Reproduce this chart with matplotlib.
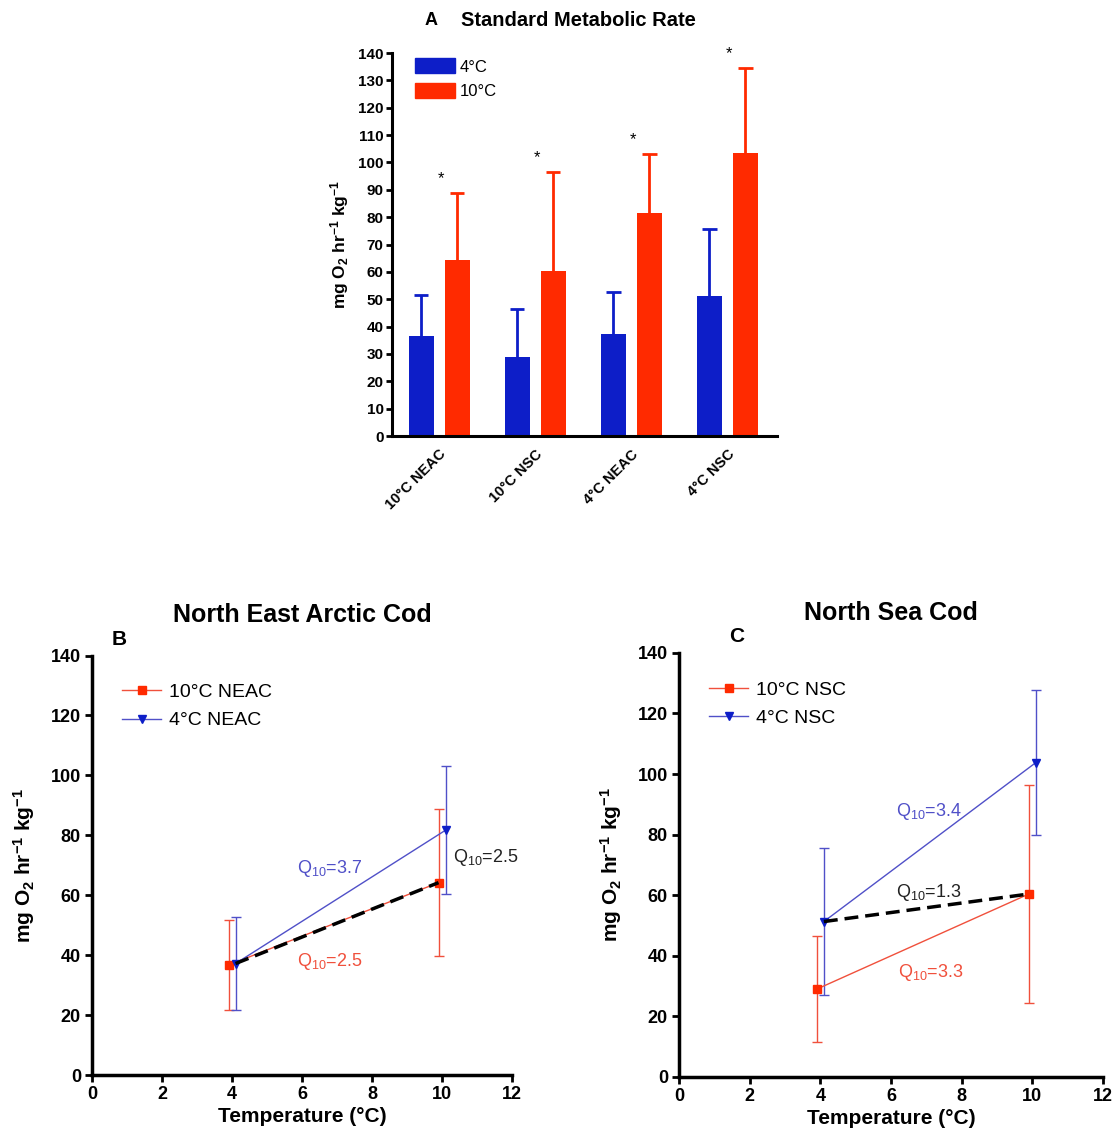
import numpy as np
import matplotlib
matplotlib.use("Agg")
import matplotlib.pyplot as plt
from matplotlib.patches import Patch
from matplotlib.lines import Line2D

plt.rcParams['font.family'] = ['Liberation Sans', 'DejaVu Sans']
plt.rcParams['mathtext.default'] = 'regular'

# ---- Panel A: standard metabolic rate, bar chart ----
groups = ['10°C NEAC', '10°C NSC', '4°C NEAC', '4°C NSC']
smr_at4 = [36.7, 29.0, 37.2, 51.3]
smr_at4_sd = [14.9, 17.3, 15.4, 24.2]
smr_at10 = [64.2, 60.4, 81.7, 103.3]
smr_at10_sd = [24.6, 36.1, 21.4, 31.1]

# ---- Panels B/C: SMR against test temperature ----
temps = [4, 10]
neac_10 = [36.7, 64.2]
neac_10_sd = [14.9, 24.6]
neac_4 = [37.2, 81.7]
neac_4_sd = [15.4, 21.4]
nsc_10 = [29.0, 60.4]
nsc_10_sd = [17.4, 36.1]
nsc_4 = [51.3, 103.8]
nsc_4_sd = [24.4, 23.9]
q10_neac = ['3.7', '2.5', '2.5']   # 4°C line, 10°C line, cross (dashed)
q10_nsc = ['3.4', '3.3', '1.3']

BLUE = '#0d1ec8'
RED = '#ff2a00'
LBLUE = '#5050c8'
LRED = '#f0503c'

fig = plt.figure(figsize=(11.17, 11.4), dpi=100)

axA = fig.add_axes([0.351, 0.6175, 0.345, 0.336])
x = np.arange(len(groups))
off, w, cap = 0.1875, 0.26, 0.075
for xs, vals, sds, col, lab in [(x - off, smr_at4, smr_at4_sd, BLUE, '4°C'),
                                (x + off, smr_at10, smr_at10_sd, RED, '10°C')]:
    axA.bar(xs, vals, w, color=col, label=lab, zorder=2)
    top = np.add(vals, sds)
    axA.vlines(xs, vals, top, color=col, lw=2, zorder=1)
    axA.hlines(top, xs - cap, xs + cap, color=col, lw=2, zorder=1)
tops = np.maximum(np.add(smr_at4, smr_at4_sd), np.add(smr_at10, smr_at10_sd))
for xi, t in zip(x, tops):
    axA.text(xi + 0.02, t + 5.2, '*', ha='center', va='center', fontsize=12)
axA.set_xlim(-0.49, 3.52)
axA.set_ylim(0, 140)
axA.set_yticks(np.arange(0, 141, 10))
axA.set_xticks(x)
axA.set_xticklabels(groups, rotation=45, ha='right', rotation_mode='anchor',
                    fontweight='bold', fontsize=10.5)
axA.tick_params(axis='x', length=0, pad=8)
axA.tick_params(axis='y', direction='out', length=4, width=2, labelsize=11, pad=2)
for lab in axA.get_yticklabels():
    lab.set_fontweight('bold')
for s in ['top', 'right']:
    axA.spines[s].set_visible(False)
for s in ['left', 'bottom']:
    axA.spines[s].set_linewidth(2.2)
axA.set_ylabel('mg O$_2$ hr$^{-1}$ kg$^{-1}$', fontweight='bold', fontsize=12.5, labelpad=5)
axA.legend(handles=[Patch(color=BLUE, label='4°C'), Patch(color=RED, label='10°C')],
           loc='upper left', bbox_to_anchor=(0.02, 1.025), frameon=False, fontsize=12,
           handlelength=2.4, handleheight=1.0, handletextpad=0.3, labelspacing=0.5)
fig.text(0.380, 0.982, 'A', fontweight='bold', fontsize=13, ha='left', va='center')
fig.text(0.413, 0.982, 'Standard Metabolic Rate', fontweight='bold', fontsize=14.5,
         ha='left', va='center')


def temp_panel(rect, title, letter, letter_x, s10, s10_sd, s4, s4_sd, lab10, lab4, q10, qpos):
    ax = fig.add_axes(rect)
    t = np.array(temps, dtype=float)
    ax.errorbar(t - 0.1, s10, yerr=s10_sd, color=LRED, lw=1, marker='s', ms=6,
                mfc=RED, mec=RED, ecolor=LRED, elinewidth=1, capsize=3.5, capthick=1,
                zorder=3)
    ax.errorbar(t + 0.1, s4, yerr=s4_sd, color=LBLUE, lw=1, marker='v', ms=6,
                mfc=BLUE, mec=BLUE, ecolor=LBLUE, elinewidth=1, capsize=3.5, capthick=1,
                zorder=3)
    ax.plot([t[0] + 0.1, t[1] - 0.1], [s4[0], s10[1]], color='black', lw=2.5,
            ls=(0, (4, 2)), zorder=4)
    ax.set_xlim(0, 12)
    ax.set_ylim(0, 140)
    ax.set_xticks(np.arange(0, 13, 2))
    ax.set_yticks(np.arange(0, 141, 20))
    ax.tick_params(direction='out', length=5, width=2, labelsize=13, pad=3)
    for lab in ax.get_xticklabels() + ax.get_yticklabels():
        lab.set_fontweight('bold')
    for s in ['top', 'right']:
        ax.spines[s].set_visible(False)
    for s in ['left', 'bottom']:
        ax.spines[s].set_linewidth(2.5)
    ax.set_xlabel('Temperature (°C)', fontweight='bold', fontsize=15, labelpad=3)
    ax.set_ylabel('mg O$_2$ hr$^{-1}$ kg$^{-1}$', fontweight='bold', fontsize=15, labelpad=10)
    ax.set_title(title, fontweight='bold', fontsize=18, pad=24)
    fig.text(letter_x, rect[1] + rect[3] + 0.014, letter, fontweight='bold', fontsize=15,
             ha='left', va='center')
    handles = [Line2D([], [], color=LRED, lw=1, marker='s', ms=6, mfc=RED, mec=RED, label=lab10),
               Line2D([], [], color=LBLUE, lw=1, marker='v', ms=6, mfc=BLUE, mec=BLUE, label=lab4)]
    ax.legend(handles=handles, loc='upper left', bbox_to_anchor=(0.03, 0.975), frameon=False,
              fontsize=14, handlelength=2.0, handletextpad=0.4, labelspacing=0.55)
    colors = [LBLUE, LRED, '#222222']
    for txt, c, (px, py) in zip(q10, colors, qpos):
        ax.text(px, py, 'Q$_{10}$=' + txt, color=c, fontsize=13, ha='left', va='center')
    return ax


temp_panel([0.0824, 0.057, 0.376, 0.368], 'North East Arctic Cod', 'B', 0.100,
           neac_10, neac_10_sd, neac_4, neac_4_sd, '10°C NEAC', '4°C NEAC',
           q10_neac, [(5.85, 69), (5.85, 38), (10.3, 72.5)])
temp_panel([0.6079, 0.0553, 0.3796, 0.372], 'North Sea Cod', 'C', 0.653,
           nsc_10, nsc_10_sd, nsc_4, nsc_4_sd, '10°C NSC', '4°C NSC',
           q10_nsc, [(6.15, 87.5), (6.2, 34.5), (6.15, 61)])

fig.savefig('out.png', dpi=100)
